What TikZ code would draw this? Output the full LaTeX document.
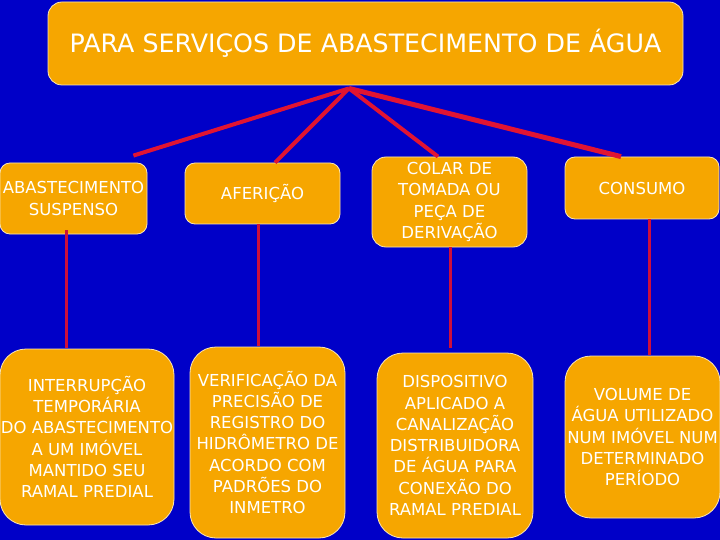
\documentclass[tikz,border=0pt]{standalone}
\usepackage{fontspec}
\setmainfont{DejaVu Sans}
\usetikzlibrary{calc}
\definecolor{bgblue}{RGB}{0,0,200}
\definecolor{boxorange}{RGB}{246,166,0}
\definecolor{edgecol}{RGB}{250,230,180}
\definecolor{linered}{RGB}{225,20,50}
\definecolor{vlinered}{RGB}{205,15,60}
\tikzset{
  box/.style={fill=boxorange, draw=edgecol, line width=0.8pt, text=white, align=center, inner sep=0pt, font=\fontsize{16.5}{21.3}\selectfont},
  link/.style={draw=linered, line width=4pt},
  vlink/.style={draw=vlinered, line width=3pt}
}
\begin{document}
\begin{tikzpicture}[x=1pt,y=-1pt]
\fill[bgblue] (0,0) rectangle (720,540);
\useasboundingbox (0,0) rectangle (720,540);
\node[box, rounded corners=14pt, minimum width=635pt, minimum height=83pt, font=\fontsize{25.3}{30}\selectfont] (top) at (365.5,43.5) {PARA SERVIÇOS DE ABASTECIMENTO DE ÁGUA};
\node[box, rounded corners=10pt, minimum width=147pt, minimum height=71pt] (b1) at (73.5,198.5) {ABASTECIMENTO\\SUSPENSO};
\node[box, rounded corners=10pt, minimum width=155pt, minimum height=61pt] (b2) at (262.5,193.5) {AFERIÇÃO};
\node[box, rounded corners=14pt, minimum width=155pt, minimum height=90pt] (b3) at (449.5,202) {COLAR DE\\TOMADA OU\\PEÇA DE\\DERIVAÇÃO};
\node[box, rounded corners=10pt, minimum width=154pt, minimum height=62pt] (b4) at (642,188) {CONSUMO};
\node[box, rounded corners=26pt, minimum width=174pt, minimum height=176pt] (b5) at (87,437) {INTERRUPÇÃO\\TEMPORÁRIA\\DO ABASTECIMENTO\\A UM IMÓVEL\\MANTIDO SEU\\RAMAL PREDIAL};
\node[box, rounded corners=26pt, minimum width=155pt, minimum height=191pt] (b6) at (267.5,442.5) {VERIFICAÇÃO DA\\PRECISÃO DE\\REGISTRO DO\\HIDRÔMETRO DE\\ACORDO COM\\PADRÕES DO\\INMETRO};
\node[box, rounded corners=26pt, minimum width=156pt, minimum height=185pt] (b7) at (455,445.5) {DISPOSITIVO\\APLICADO A\\CANALIZAÇÃO\\DISTRIBUIDORA\\DE ÁGUA PARA\\CONEXÃO DO\\RAMAL PREDIAL};
\node[box, rounded corners=26pt, minimum width=155pt, minimum height=162pt] (b8) at (642.5,437) {VOLUME DE\\ÁGUA UTILIZADO\\NUM IMÓVEL NUM\\DETERMINADO\\PERÍODO};
\coordinate (apex) at ($(top.south)+(-16.5,3)$);
\draw[link] (apex) -- ($(b1.north east)+(-14,-7)$);
\draw[link] (apex) -- ($(b2.north)+(12.5,0)$);
\draw[link] (apex) -- ($(b3.north)+(-11.5,0)$);
\draw[link, line width=5pt] (apex) -- ($(b4.north)+(-21,0)$);
\draw[vlink] ($(b1.south)+(-7.5,-4)$) -- ($(b1.south |- b5.north)+(-7.5,-1)$);
\draw[vlink] ($(b2.south)+(-4.5,0)$) -- ($(b2.south |- b6.north)+(-4.5,-1)$);
\draw[vlink] ($(b3.south)+(0.5,0)$) -- ($(b3.south |- b7.north)+(0.5,-5)$);
\draw[vlink] ($(b4.south)+(7,0)$) -- ($(b4.south |- b8.north)+(7,-1)$);
\end{tikzpicture}
\end{document}
